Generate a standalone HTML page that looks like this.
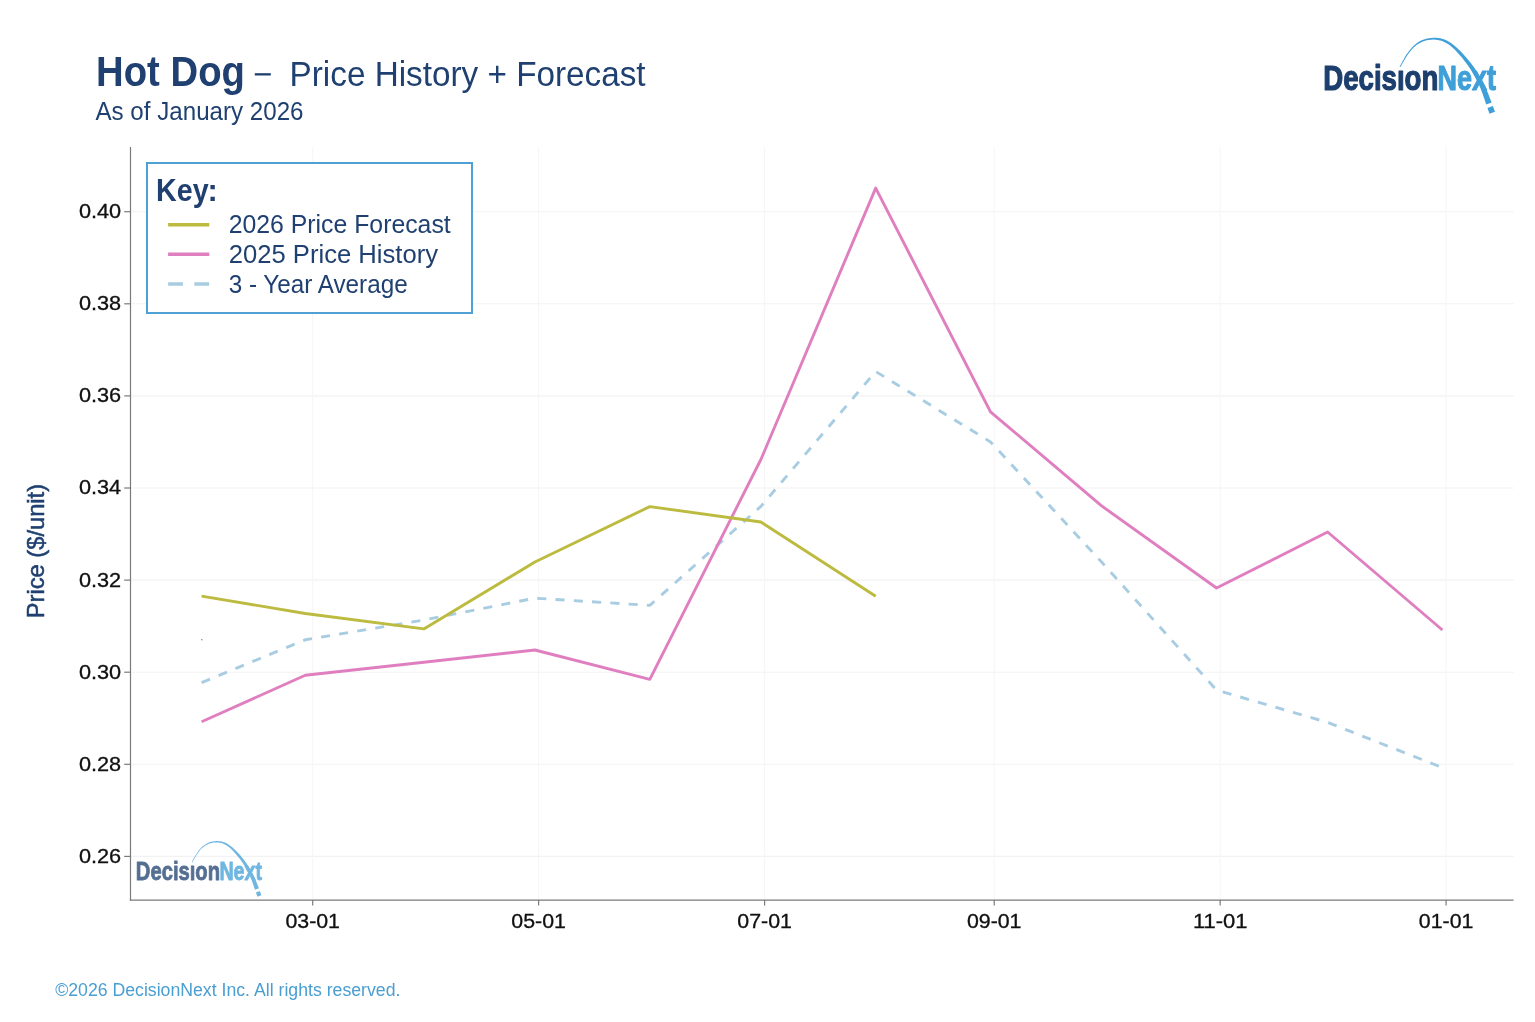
<!DOCTYPE html>
<html><head><meta charset="utf-8"><title>Hot Dog - Price History + Forecast</title>
<style>
html,body{margin:0;padding:0;background:#fff;}
body{width:1535px;height:1022px;overflow:hidden;font-family:"Liberation Sans",sans-serif;}
svg{display:block;position:absolute;left:0;top:0;will-change:transform;}
text{font-family:"Liberation Sans",sans-serif;}
</style></head><body>
<svg width="1535" height="1022" viewBox="0 0 1535 1022">
<rect width="1535" height="1022" fill="#ffffff"/>
<text x="96.1" y="86" font-weight="bold" font-size="41.6" textLength="148.8" lengthAdjust="spacingAndGlyphs" fill="#1f4070">Hot Dog</text>
<rect x="254.8" y="73.2" width="16" height="2.3" fill="#1f4070"/>
<text x="289.6" y="86" font-size="35.4" textLength="356" lengthAdjust="spacingAndGlyphs" fill="#1f4070">Price History + Forecast</text>
<text x="95.5" y="119.9" font-size="25.2" textLength="208" lengthAdjust="spacingAndGlyphs" fill="#1f4070">As of January 2026</text>
<g stroke="#f2f2f2" stroke-width="1.1" fill="none"><line x1="130.5" x2="1513.6" y1="211.7" y2="211.7"/><line x1="130.5" x2="1513.6" y1="303.8" y2="303.8"/><line x1="130.5" x2="1513.6" y1="395.9" y2="395.9"/><line x1="130.5" x2="1513.6" y1="488.0" y2="488.0"/><line x1="130.5" x2="1513.6" y1="580.1" y2="580.1"/><line x1="130.5" x2="1513.6" y1="672.2" y2="672.2"/><line x1="130.5" x2="1513.6" y1="764.3" y2="764.3"/><line x1="130.5" x2="1513.6" y1="856.4" y2="856.4"/><line x1="312.7" x2="312.7" y1="147" y2="900.1" stroke="#f6f6f6"/><line x1="538.6379" x2="538.6379" y1="147" y2="900.1" stroke="#f6f6f6"/><line x1="764.5758" x2="764.5758" y1="147" y2="900.1" stroke="#f6f6f6"/><line x1="994.2176" x2="994.2176" y1="147" y2="900.1" stroke="#f6f6f6"/><line x1="1220.1555" x2="1220.1555" y1="147" y2="900.1" stroke="#f6f6f6"/><line x1="1446.0934" x2="1446.0934" y1="147" y2="900.1" stroke="#f6f6f6"/></g>
<g transform="translate(-831.42,813.52) scale(0.731)" opacity="0.75"><g id="lg2">
<text x="1323.2" y="90.3" font-family="Liberation Sans" font-weight="bold" font-size="35.8" textLength="115.2" lengthAdjust="spacingAndGlyphs" fill="#1c3f6e" stroke="#1c3f6e" stroke-width="1.2" stroke-linejoin="round">Decisıon</text>
<text x="1437.5" y="90.3" font-family="Liberation Sans" font-weight="bold" font-size="35.8" textLength="58.4" lengthAdjust="spacingAndGlyphs" fill="#3f9fd8" stroke="#3f9fd8" stroke-width="1.2" stroke-linejoin="round">Next</text>
<path d="M1400.50,67.01 L1401.52,65.08 L1402.59,63.12 L1403.69,61.13 L1404.85,59.13 L1406.06,57.15 L1407.34,55.19 L1408.67,53.27 L1410.09,51.42 L1411.58,49.66 L1413.15,47.99 L1414.81,46.44 L1416.56,45.02 L1418.39,43.74 L1420.33,42.63 L1422.36,41.69 L1424.48,40.93 L1426.66,40.33 L1428.88,39.90 L1431.13,39.65 L1433.40,39.58 L1435.65,39.68 L1437.87,39.97 L1440.05,40.43 L1442.15,41.08 L1444.18,41.90 L1446.12,42.90 L1448.00,44.06 L1449.81,45.36 L1451.56,46.77 L1453.26,48.28 L1454.91,49.87 L1456.52,51.52 L1458.08,53.20 L1459.60,54.89 L1461.08,56.62 L1462.53,58.36 L1463.94,60.13 L1465.31,61.92 L1466.66,63.74 L1467.98,65.58 L1469.26,67.45 L1470.51,69.34 L1471.73,71.25 L1472.91,73.18 L1474.05,75.14 L1475.15,77.11 L1476.22,79.10 L1477.24,81.11 L1478.22,83.14 L1479.16,85.18 L1480.05,87.25 L1480.90,89.33 L1481.71,91.43 L1482.49,93.55 L1483.24,95.69 L1483.98,97.85 L1484.72,100.03 L1485.45,102.21 L1486.18,104.40 L1491.62,102.40 L1490.76,100.27 L1489.92,98.14 L1489.09,95.99 L1488.24,93.83 L1487.37,91.67 L1486.47,89.52 L1485.54,87.37 L1484.55,85.23 L1483.52,83.12 L1482.45,81.03 L1481.33,78.96 L1480.17,76.92 L1478.97,74.90 L1477.73,72.91 L1476.45,70.95 L1475.14,69.01 L1473.79,67.10 L1472.42,65.21 L1471.01,63.35 L1469.57,61.52 L1468.10,59.72 L1466.61,57.94 L1465.09,56.19 L1463.53,54.46 L1461.94,52.76 L1460.31,51.08 L1458.63,49.42 L1456.90,47.79 L1455.12,46.20 L1453.27,44.67 L1451.35,43.24 L1449.35,41.93 L1447.27,40.76 L1445.11,39.75 L1442.86,38.94 L1440.54,38.34 L1438.17,37.94 L1435.78,37.73 L1433.37,37.71 L1430.98,37.88 L1428.60,38.22 L1426.26,38.74 L1423.98,39.44 L1421.77,40.32 L1419.66,41.37 L1417.65,42.59 L1415.75,43.97 L1413.97,45.50 L1412.29,47.14 L1410.71,48.89 L1409.22,50.74 L1407.80,52.64 L1406.46,54.60 L1405.19,56.60 L1403.99,58.63 L1402.84,60.65 L1401.75,62.67 L1400.70,64.65 L1399.70,66.59Z M1489.51,113.72 L1494.96,111.71 L1492.89,106.08 L1487.44,108.09Z" fill="#3f9fd8"/>
</g></g>
<polyline points="201.6,682.6 305.3,639.8 423.8,620.0 534.9,598.2 649.8,605.4 760.9,506.4 875.7,371.5 990.5,441.9 1101.6,562.0 1216.5,690.1 1327.6,722.4 1442.4,767.6" fill="none" stroke="#a8cde2" stroke-width="2.9" stroke-dasharray="9.1 9.21" stroke-linejoin="round"/>
<polyline points="201.6,721.7 305.3,675.3 423.8,662.3 534.9,650.0 649.8,679.3 760.9,459.5 875.7,188.1 990.5,411.8 1101.6,505.9 1216.5,588.0 1327.6,532.0 1442.4,630.0" fill="none" stroke="#e07fc0" stroke-width="2.9" stroke-linejoin="round"/>
<polyline points="201.6,596.1 305.3,613.5 423.8,628.9 534.9,562.0 649.8,506.6 760.9,522.0 875.7,596.2" fill="none" stroke="#bcbb3f" stroke-width="2.9" stroke-linejoin="round"/>
<rect x="201.2" y="639.1" width="1.2" height="1.2" fill="#777"/>
<g stroke="#7a7a7a" stroke-width="1.2" fill="none"><line x1="130.5" x2="130.5" y1="147" y2="900.7"/><line x1="129.9" x2="1513.6" y1="900.1" y2="900.1"/><line x1="124.2" x2="130.5" y1="211.7" y2="211.7"/><line x1="124.2" x2="130.5" y1="303.8" y2="303.8"/><line x1="124.2" x2="130.5" y1="395.9" y2="395.9"/><line x1="124.2" x2="130.5" y1="488.0" y2="488.0"/><line x1="124.2" x2="130.5" y1="580.1" y2="580.1"/><line x1="124.2" x2="130.5" y1="672.2" y2="672.2"/><line x1="124.2" x2="130.5" y1="764.3" y2="764.3"/><line x1="124.2" x2="130.5" y1="856.4" y2="856.4"/><line x1="312.7" x2="312.7" y1="900.1" y2="905.6"/><line x1="538.6379" x2="538.6379" y1="900.1" y2="905.6"/><line x1="764.5758" x2="764.5758" y1="900.1" y2="905.6"/><line x1="994.2176" x2="994.2176" y1="900.1" y2="905.6"/><line x1="1220.1555" x2="1220.1555" y1="900.1" y2="905.6"/><line x1="1446.0934" x2="1446.0934" y1="900.1" y2="905.6"/></g>
<text x="78.9" y="218.1" font-size="19.4" textLength="42.2" lengthAdjust="spacingAndGlyphs" fill="#111" stroke="#111" stroke-width="0.3">0.40</text>
<text x="78.9" y="310.2" font-size="19.4" textLength="42.2" lengthAdjust="spacingAndGlyphs" fill="#111" stroke="#111" stroke-width="0.3">0.38</text>
<text x="78.9" y="402.3" font-size="19.4" textLength="42.2" lengthAdjust="spacingAndGlyphs" fill="#111" stroke="#111" stroke-width="0.3">0.36</text>
<text x="78.9" y="494.4" font-size="19.4" textLength="42.2" lengthAdjust="spacingAndGlyphs" fill="#111" stroke="#111" stroke-width="0.3">0.34</text>
<text x="78.9" y="586.5" font-size="19.4" textLength="42.2" lengthAdjust="spacingAndGlyphs" fill="#111" stroke="#111" stroke-width="0.3">0.32</text>
<text x="78.9" y="678.6" font-size="19.4" textLength="42.2" lengthAdjust="spacingAndGlyphs" fill="#111" stroke="#111" stroke-width="0.3">0.30</text>
<text x="78.9" y="770.7" font-size="19.4" textLength="42.2" lengthAdjust="spacingAndGlyphs" fill="#111" stroke="#111" stroke-width="0.3">0.28</text>
<text x="78.9" y="862.8" font-size="19.4" textLength="42.2" lengthAdjust="spacingAndGlyphs" fill="#111" stroke="#111" stroke-width="0.3">0.26</text>
<text x="285.4" y="928.1" font-size="19.4" textLength="54.6" lengthAdjust="spacingAndGlyphs" fill="#111" stroke="#111" stroke-width="0.3">03-01</text>
<text x="511.3" y="928.1" font-size="19.4" textLength="54.6" lengthAdjust="spacingAndGlyphs" fill="#111" stroke="#111" stroke-width="0.3">05-01</text>
<text x="737.3" y="928.1" font-size="19.4" textLength="54.6" lengthAdjust="spacingAndGlyphs" fill="#111" stroke="#111" stroke-width="0.3">07-01</text>
<text x="966.9" y="928.1" font-size="19.4" textLength="54.6" lengthAdjust="spacingAndGlyphs" fill="#111" stroke="#111" stroke-width="0.3">09-01</text>
<text x="1192.9" y="928.1" font-size="19.4" textLength="54.6" lengthAdjust="spacingAndGlyphs" fill="#111" stroke="#111" stroke-width="0.3">11-01</text>
<text x="1418.8" y="928.1" font-size="19.4" textLength="54.6" lengthAdjust="spacingAndGlyphs" fill="#111" stroke="#111" stroke-width="0.3">01-01</text>
<text transform="translate(43.6,618.3) rotate(-90)" font-size="23.2" textLength="134.4" lengthAdjust="spacingAndGlyphs" fill="#1f4070" stroke="#1f4070" stroke-width="0.5">Price ($/unit)</text>
<rect x="147" y="163" width="325" height="150" fill="#ffffff" stroke="#4fa1d5" stroke-width="2"/>
<text x="156" y="201" font-weight="bold" font-size="30.8" textLength="52.6" lengthAdjust="spacingAndGlyphs" fill="#1f4070">Key</text>
<text x="207.6" y="201" font-size="30.8" font-weight="bold" fill="#1f4070">:</text>
<line x1="168.1" x2="209.3" y1="224.8" y2="224.8" stroke="#bcbb3f" stroke-width="3.4"/>
<line x1="168.1" x2="209.3" y1="254.2" y2="254.2" stroke="#e07fc0" stroke-width="3.4"/>
<line x1="168.1" x2="209.3" y1="284" y2="284" stroke="#a8cde2" stroke-width="3.4" stroke-dasharray="14.8 11.4"/>
<text x="228.7" y="232.5" font-size="25.8" textLength="222" lengthAdjust="spacingAndGlyphs" fill="#1f4070">2026 Price Forecast</text>
<text x="228.7" y="263" font-size="25.8" textLength="209.4" lengthAdjust="spacingAndGlyphs" fill="#1f4070">2025 Price History</text>
<text x="228.7" y="293.2" font-size="25.8" textLength="179" lengthAdjust="spacingAndGlyphs" fill="#1f4070">3 - Year Average</text>
<g id="lg1">
<text x="1323.2" y="90.3" font-family="Liberation Sans" font-weight="bold" font-size="35.8" textLength="115.2" lengthAdjust="spacingAndGlyphs" fill="#1c3f6e" stroke="#1c3f6e" stroke-width="1.2" stroke-linejoin="round">Decisıon</text>
<text x="1437.5" y="90.3" font-family="Liberation Sans" font-weight="bold" font-size="35.8" textLength="58.4" lengthAdjust="spacingAndGlyphs" fill="#3f9fd8" stroke="#3f9fd8" stroke-width="1.2" stroke-linejoin="round">Next</text>
<path d="M1400.50,67.01 L1401.52,65.08 L1402.59,63.12 L1403.69,61.13 L1404.85,59.13 L1406.06,57.15 L1407.34,55.19 L1408.67,53.27 L1410.09,51.42 L1411.58,49.66 L1413.15,47.99 L1414.81,46.44 L1416.56,45.02 L1418.39,43.74 L1420.33,42.63 L1422.36,41.69 L1424.48,40.93 L1426.66,40.33 L1428.88,39.90 L1431.13,39.65 L1433.40,39.58 L1435.65,39.68 L1437.87,39.97 L1440.05,40.43 L1442.15,41.08 L1444.18,41.90 L1446.12,42.90 L1448.00,44.06 L1449.81,45.36 L1451.56,46.77 L1453.26,48.28 L1454.91,49.87 L1456.52,51.52 L1458.08,53.20 L1459.60,54.89 L1461.08,56.62 L1462.53,58.36 L1463.94,60.13 L1465.31,61.92 L1466.66,63.74 L1467.98,65.58 L1469.26,67.45 L1470.51,69.34 L1471.73,71.25 L1472.91,73.18 L1474.05,75.14 L1475.15,77.11 L1476.22,79.10 L1477.24,81.11 L1478.22,83.14 L1479.16,85.18 L1480.05,87.25 L1480.90,89.33 L1481.71,91.43 L1482.49,93.55 L1483.24,95.69 L1483.98,97.85 L1484.72,100.03 L1485.45,102.21 L1486.18,104.40 L1491.62,102.40 L1490.76,100.27 L1489.92,98.14 L1489.09,95.99 L1488.24,93.83 L1487.37,91.67 L1486.47,89.52 L1485.54,87.37 L1484.55,85.23 L1483.52,83.12 L1482.45,81.03 L1481.33,78.96 L1480.17,76.92 L1478.97,74.90 L1477.73,72.91 L1476.45,70.95 L1475.14,69.01 L1473.79,67.10 L1472.42,65.21 L1471.01,63.35 L1469.57,61.52 L1468.10,59.72 L1466.61,57.94 L1465.09,56.19 L1463.53,54.46 L1461.94,52.76 L1460.31,51.08 L1458.63,49.42 L1456.90,47.79 L1455.12,46.20 L1453.27,44.67 L1451.35,43.24 L1449.35,41.93 L1447.27,40.76 L1445.11,39.75 L1442.86,38.94 L1440.54,38.34 L1438.17,37.94 L1435.78,37.73 L1433.37,37.71 L1430.98,37.88 L1428.60,38.22 L1426.26,38.74 L1423.98,39.44 L1421.77,40.32 L1419.66,41.37 L1417.65,42.59 L1415.75,43.97 L1413.97,45.50 L1412.29,47.14 L1410.71,48.89 L1409.22,50.74 L1407.80,52.64 L1406.46,54.60 L1405.19,56.60 L1403.99,58.63 L1402.84,60.65 L1401.75,62.67 L1400.70,64.65 L1399.70,66.59Z M1489.51,113.72 L1494.96,111.71 L1492.89,106.08 L1487.44,108.09Z" fill="#3f9fd8"/>
</g>
<text x="55.2" y="995.8" font-size="17.5" textLength="345.2" lengthAdjust="spacingAndGlyphs" fill="#4a9ed2">©2026 DecisionNext Inc. All rights reserved.</text>
</svg></body></html>
